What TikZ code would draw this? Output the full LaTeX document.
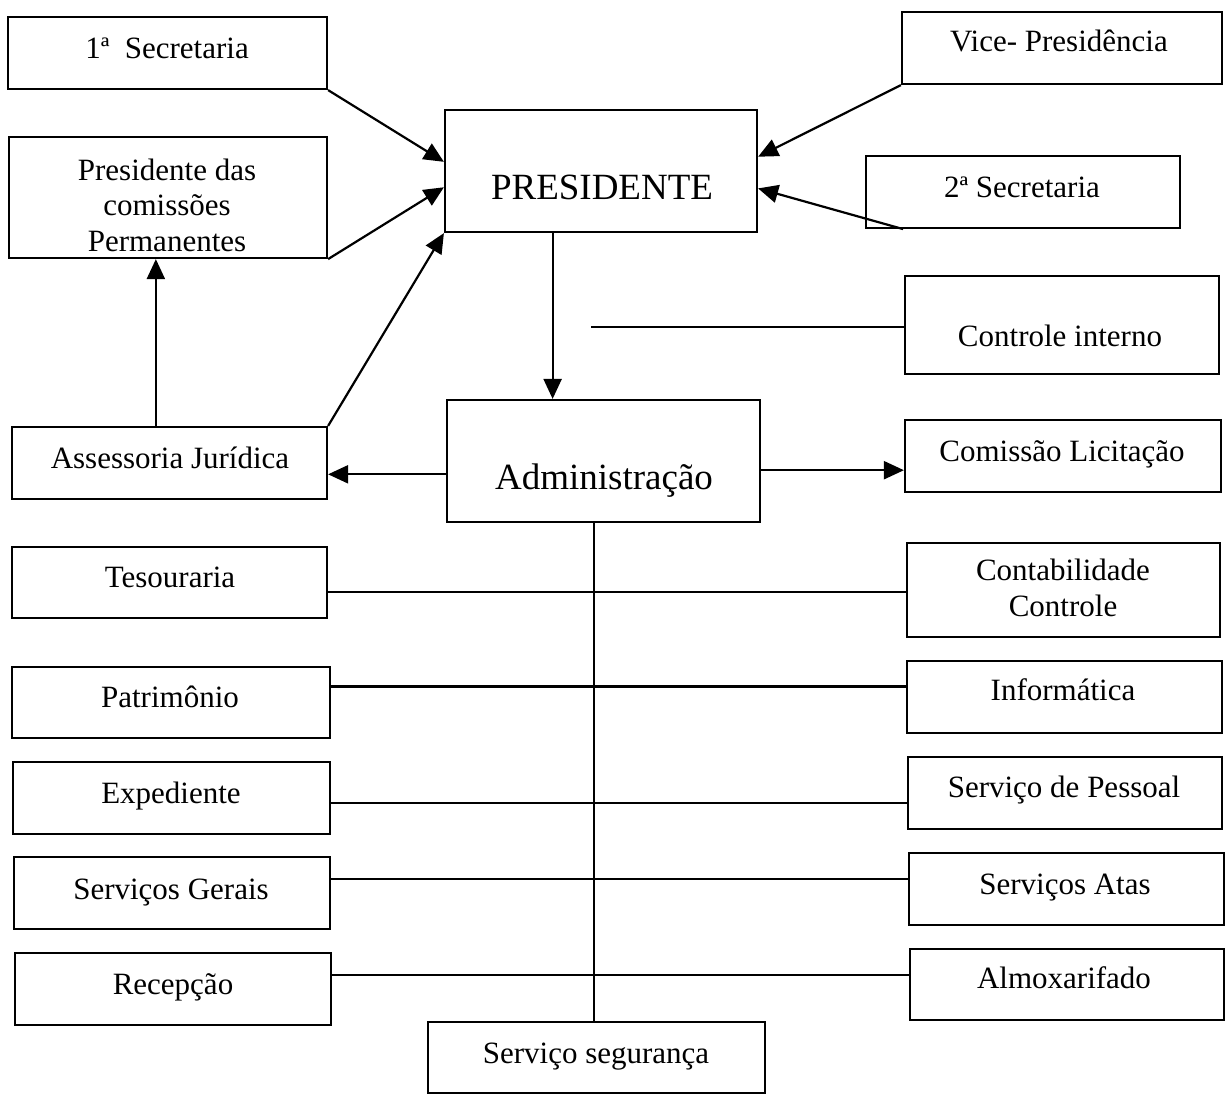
\documentclass[tikz,border=0pt]{standalone}
\usepackage{fontspec}
\setmainfont{Liberation Serif}
\usetikzlibrary{arrows.meta,fit,calc}
\begin{document}
\begin{tikzpicture}[x=0.5pt,y=-0.5pt,
  box/.style={draw,line width=1.1pt,inner sep=0pt,fit={#1}},
  lbl/.style={anchor=base,inner sep=0pt,font=\fontsize{15.5}{18}\selectfont},
  mlbl/.style={anchor=center,inner sep=0pt,align=center,font=\fontsize{15.5}{17.8}\selectfont},
  big/.style={anchor=base,inner sep=0pt,font=\fontsize{18.5}{22}\selectfont},
  conn/.style={line width=1.1pt},
  arr/.style={conn,-{Triangle[length=10pt,width=9pt]}}]
\useasboundingbox (0,0) rectangle (1231,1094);

% boxes
\node[box={(8,17) (327,89)}] (sec1) {};
\node[box={(9,137) (327,258)}] (pcom) {};
\node[box={(445,110) (757,232)}] (pres) {};
\node[box={(902,12) (1222,84)}] (vice) {};
\node[box={(866,156) (1180,228)}] (sec2) {};
\node[box={(905,276) (1219,374)}] (ctrl) {};
\node[box={(12,427) (327,499)}] (assj) {};
\node[box={(447,400) (760,522)}] (adm) {};
\node[box={(905,420) (1221,492)}] (lic) {};
\node[box={(12,547) (327,618)}] (tes) {};
\node[box={(907,543) (1220,637)}] (cont) {};
\node[box={(12,667) (330,738)}] (pat) {};
\node[box={(907,661) (1222,733)}] (inf) {};
\node[box={(13,762) (330,834)}] (exp) {};
\node[box={(908,757) (1222,829)}] (pes) {};
\node[box={(14,857) (330,929)}] (sg) {};
\node[box={(909,853) (1224,925)}] (sa) {};
\node[box={(15,953) (331,1025)}] (rec) {};
\node[box={(910,949) (1224,1020)}] (alm) {};
\node[box={(428,1022) (765,1093)}] (seg) {};

% texts
\node[lbl] (sec1t) at (167,58) {1ª\ \ Secretaria};
\node[mlbl] (pcomt) at (167,205) {Presidente das\\comissões\\Permanentes};
\node[big] (prest) at (602,199) {PRESIDENTE};
\node[lbl] (vicet) at (1059,51) {Vice- Presidência};
\node[lbl] (sec2t) at (1022,197) {2ª Secretaria};
\node[lbl] (ctrlt) at (1060,346) {Controle interno};
\node[lbl] (assjt) at (170,468) {Assessoria Jurídica};
\node[big] (admt) at (604,489) {Administração};
\node[lbl] (lict) at (1062,461) {Comissão Licitação};
\node[lbl] (test) at (170,587) {Tesouraria};
\node[mlbl] (contt) at (1063,588) {Contabilidade\\Controle};
\node[lbl] (patt) at (170,707) {Patrimônio};
\node[lbl] (inft) at (1063,700) {Informática};
\node[lbl] (expt) at (171,803) {Expediente};
\node[lbl] (pest) at (1064,797) {Serviço de Pessoal};
\node[lbl] (sgt) at (171,899) {Serviços Gerais};
\node[lbl] (sat) at (1065,894) {Serviços Atas};
\node[lbl] (rect) at (173,994) {Recepção};
\node[lbl] (almt) at (1064,988) {Almoxarifado};
\node[lbl] (segt) at (596,1063) {Serviço segurança};

% arrows to PRESIDENTE
\draw[arr] (sec1.south east) -- ($(pres.north west)!0.426!(pres.south west)$);
\draw[arr] (pcom.south east) -- ($(pres.north west)!0.631!(pres.south west)$);
\draw[arr] (assj.north east) -- (pres.south west);
\draw[arr] (vice.south west) -- ($(pres.north east)!0.385!(pres.south east)$);
\draw[arr] ($(sec2.south west)!0.121!(sec2.south east)$) -- ($(pres.north east)!0.64!(pres.south east)$);
\draw[arr] ($(assj.north west)!0.457!(assj.north east)$) coordinate (aj) -- (aj |- pcom.south);

% PRESIDENTE to Administração
\draw[arr] ($(pres.south west)!0.346!(pres.south east)$) coordinate (pa) -- (pa |- adm.north);
\coordinate (ci) at (591,327);
\draw[conn] (ci) -- (ci -| ctrl.west);

% Administração sides
\draw[arr] ($(adm.north west)!0.607!(adm.south west)$) coordinate (aw) -- (aw -| assj.east);
\draw[arr] ($(adm.north east)!0.574!(adm.south east)$) coordinate (ae) -- (ae -| lic.west);

% trunk
\draw[conn] ($(adm.south west)!0.47!(adm.south east)$) coordinate (tr) -- (tr |- seg.north);

% horizontal lines
\draw[conn] ($(tes.north east)!0.634!(tes.south east)$) coordinate (l1) -- (l1 -| cont.west);
\draw[conn] ($(pat.north east)!0.28!(pat.south east)$) coordinate (l2) -- (l2 -| inf.west);
\draw[conn] ($(exp.north east)!0.57!(exp.south east)$) coordinate (l3) -- (l3 -| pes.west);
\draw[conn] ($(sg.north east)!0.31!(sg.south east)$) coordinate (l4) -- (l4 -| sa.west);
\draw[conn] ($(rec.north east)!0.31!(rec.south east)$) coordinate (l5) -- (l5 -| alm.west);
\end{tikzpicture}
\end{document}
